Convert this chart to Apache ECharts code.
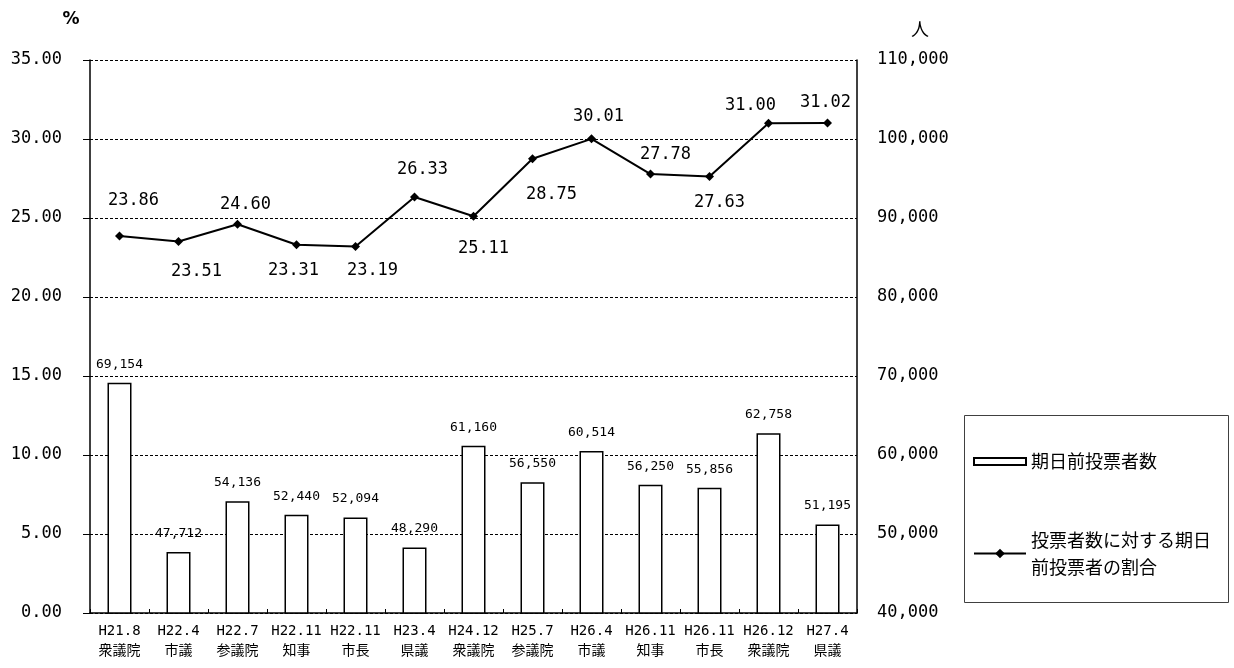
<!DOCTYPE html>
<html>
<head>
<meta charset="utf-8">
<script src="https://cdn.jsdelivr.net/npm/echarts@6/dist/echarts.min.js"></script>
<style>
  html, body { margin: 0; padding: 0; background: #fff; }
  #chart { width: 1234px; height: 668px; }
</style>
</head>
<body>
<div id="chart"></div>
<script>
// Elections (era year.month + body)
const categories = [
  'H21.8\n衆議院', 'H22.4\n市議', 'H22.7\n参議院', 'H22.11\n知事', 'H22.11\n市長',
  'H23.4\n県議', 'H24.12\n衆議院', 'H25.7\n参議院', 'H26.4\n市議', 'H26.11\n知事',
  'H26.11\n市長', 'H26.12\n衆議院', 'H27.4\n県議'
];
// Number of early voters (persons)
const earlyVoters = [69154, 47712, 54136, 52440, 52094, 48290, 61160, 56550, 60514, 56250, 55856, 62758, 51195];
// Share of early voters among all voters (%)
const earlyShare = [23.86, 23.51, 24.60, 23.31, 23.19, 26.33, 25.11, 28.75, 30.01, 27.78, 27.63, 31.00, 31.02];

const seriesNames = ['期日前投票者数', '投票者数に対する期日前投票者の割合'];

// label placement around each point of the share line
const shareLabelOffsets = [
  [14, -35], [18, 30], [8, -20], [-3, 26], [17, 24], [8, -27], [10, 32],
  [19, 36], [7, -22], [15, -19], [10, 26], [-18, -18], [-2, -20]
];

const NUM_FONT = "'DejaVu Sans Mono', 'Noto Sans CJK JP', monospace";
const JP_FONT = "'Noto Sans CJK JP', 'DejaVu Sans', sans-serif";

const chart = echarts.init(document.getElementById('chart'), null, { renderer: 'canvas' });

chart.setOption({
  animation: false,
  backgroundColor: '#ffffff',
  grid: { left: 90, right: 377, top: 60, bottom: 55, containLabel: false },
  graphic: [{
    type: 'rect',
    shape: { x: 964.5, y: 415.5, width: 264, height: 187 },
    style: { fill: '#ffffff', stroke: '#404040', lineWidth: 1 },
    z: 0
  }],
  legend: [
    {
      data: [{ name: seriesNames[0], icon: 'rect' }],
      left: 973, top: 448, padding: 0,
      itemWidth: 52, itemHeight: 7,
      textStyle: { fontFamily: JP_FONT, fontSize: 18, color: '#000', lineHeight: 27 },
      z: 5
    },
    {
      data: [seriesNames[1]],
      left: 973, top: 513, padding: 0,
      itemWidth: 52, itemHeight: 12,
      formatter: () => '投票者数に対する期日\n前投票者の割合',
      textStyle: { fontFamily: JP_FONT, fontSize: 18, color: '#000', lineHeight: 27, padding: [27, 0, 0, 0] },
      z: 5
    }
  ],
  xAxis: {
    type: 'category',
    data: categories,
    axisLine: { lineStyle: { color: '#000', width: 1.5 } },
    axisTick: { show: true, inside: true, length: 4, lineStyle: { color: '#000' } },
    axisLabel: {
      fontFamily: NUM_FONT, fontSize: 14, color: '#000', lineHeight: 20, margin: 8, interval: 0
    }
  },
  yAxis: [
    {
      type: 'value', min: 0, max: 35, interval: 5, position: 'left',
      name: '%', nameLocation: 'end', nameGap: 32,
      nameTextStyle: { fontFamily: "'DejaVu Sans', sans-serif", fontSize: 17, color: '#000', fontWeight: 'bold', padding: [0, 38, 0, 0] },
      axisLine: { show: true, lineStyle: { color: '#000', width: 1.5 } },
      axisTick: { show: true, length: 7, lineStyle: { color: '#000' } },
      axisLabel: {
        fontFamily: NUM_FONT, fontSize: 17, color: '#000', margin: 28,
        formatter: v => v.toFixed(2)
      },
      splitLine: { show: true, lineStyle: { color: '#000', width: 1, type: [3, 2] } }
    },
    {
      type: 'value', min: 40000, max: 110000, interval: 10000, position: 'right',
      name: '人', nameLocation: 'end', nameGap: 22,
      nameTextStyle: { fontFamily: JP_FONT, fontSize: 18, color: '#000', padding: [0, 0, 0, 126] },
      axisLine: { show: true, lineStyle: { color: '#000', width: 1.5 } },
      axisTick: { show: false },
      axisLabel: {
        fontFamily: NUM_FONT, fontSize: 17, color: '#000', margin: 20,
        formatter: v => v.toLocaleString('en-US')
      },
      splitLine: { show: false }
    }
  ],
  series: [
    {
      name: seriesNames[0],
      type: 'bar',
      yAxisIndex: 1,
      data: earlyVoters,
      barWidth: 24,
      itemStyle: { color: '#ffffff', borderColor: '#000', borderWidth: 1.5 },
      label: {
        show: true, position: 'top', distance: 12,
        fontFamily: NUM_FONT, fontSize: 13, color: '#000',
        formatter: p => p.value.toLocaleString('en-US')
      },
      z: 2
    },
    {
      name: seriesNames[1],
      type: 'line',
      yAxisIndex: 0,
      data: earlyShare.map((v, i) => ({
        value: v,
        label: { offset: shareLabelOffsets[i] }
      })),
      lineStyle: { color: '#000', width: 2 },
      itemStyle: { color: '#000' },
      symbol: 'diamond',
      symbolSize: 9,
      label: {
        show: true, position: 'inside',
        fontFamily: NUM_FONT, fontSize: 17, color: '#000',
        formatter: p => p.value.toFixed(2)
      },
      z: 3
    }
  ]
});
</script>
</body>
</html>
